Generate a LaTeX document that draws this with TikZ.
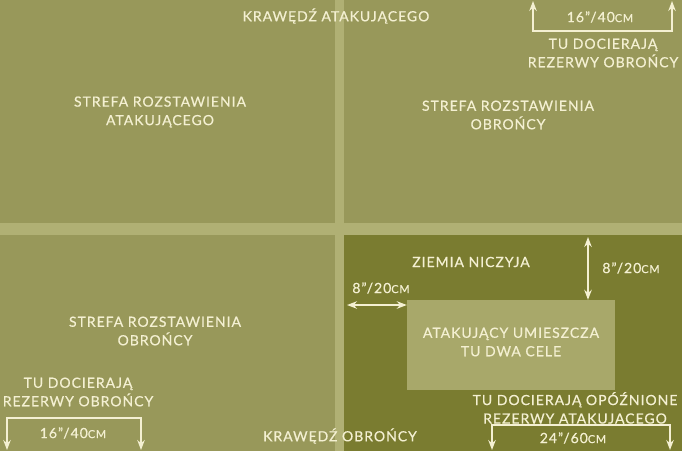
\documentclass[tikz,border=0pt]{standalone}
\usepackage{fontspec}
\setmainfont{Lato}[LetterSpace=7,FakeBold=0.5]
\usetikzlibrary{arrows.meta}
\definecolor{bgc}{RGB}{152,152,90}
\definecolor{bandc}{RGB}{176,176,116}
\definecolor{darkc}{RGB}{122,124,48}
\definecolor{boxc}{RGB}{168,168,106}
\definecolor{txtc}{RGB}{244,240,210}
\newcommand{\smc}[1]{{\fontsize{11}{12}\selectfont #1}}
\tikzset{
  lbl/.style={text=txtc, font=\fontsize{14}{18.5}\selectfont, align=center, inner sep=0pt},
  dimline/.style={draw=txtc, line width=1.6pt, line join=miter},
  tip2/.style={dimline, {Stealth[length=10pt,width=7.5pt]}-{Stealth[length=10pt,width=7.5pt]}},
  objbox/.style={fill=boxc, minimum width=208pt, minimum height=90pt, inner sep=0pt}
}
\begin{document}
\begin{tikzpicture}[x=1pt,y=-1pt]
\useasboundingbox (0,0) rectangle (682,451);
\fill[bgc] (0,0) rectangle (682,451);
\fill[darkc] (344,235) rectangle (682,451);
\fill[bandc] (335,0) rectangle (344,451);
\fill[bandc] (0,223) rectangle (682,235);

\node[objbox] (obj) at (511,345) {};
\node[lbl] (objt) at (511,342) {ATAKUJĄCY UMIESZCZA\\TU DWA CELE};

\node[lbl] (kra) at (336,16) {KRAWĘDŹ ATAKUJĄCEGO};
\node[lbl] (kro) at (340,436) {KRAWĘDŹ OBROŃCY};
\node[lbl] (sa) at (160,112) {STREFA ROZSTAWIENIA\\ATAKUJĄCEGO};
\node[lbl] (so) at (508,115) {STREFA ROZSTAWIENIA\\OBROŃCY};
\node[lbl] (sl) at (155,331) {STREFA ROZSTAWIENIA\\OBROŃCY};
\node[lbl] (zn) at (471,262) {ZIEMIA NICZYJA};

% top-right reserves
\node[lbl] (trd) at (603,53) {TU DOCIERAJĄ\\REZERWY OBROŃCY};
\node[lbl] (trm) at (600,17) {16”/40\smc{CM}};
\coordinate (tra) at (533,1);
\coordinate (trb) at (533,31);
\coordinate (trc) at (672,31);
\coordinate (trd2) at (672,1);
\draw[tip2] (tra) -- (trb) -- (trc) -- (trd2);

% bottom-left reserves
\node[lbl] (bld) at (78,392) {TU DOCIERAJĄ\\REZERWY OBROŃCY};
\node[lbl] (blm) at (73,433) {16”/40\smc{CM}};
\coordinate (bla) at (7,450);
\coordinate (blb) at (7,418);
\coordinate (blc) at (141,418);
\coordinate (bld2) at (141,450);
\draw[tip2] (bla) -- (blb) -- (blc) -- (bld2);

% bottom-right delayed reserves
\node[lbl] (brd) at (575,409) {TU DOCIERAJĄ OPÓŹNIONE\\REZERWY ATAKUJĄCEGO};
\node[lbl] (brm) at (573,438) {24”/60\smc{CM}};
\coordinate (bra) at (492,450);
\coordinate (brb) at (492,425);
\coordinate (brc) at (670,425);
\coordinate (brd2) at (670,450);
\draw[tip2] (bra) -- (brb) -- (brc) -- (brd2);

% no man's land distances
\node[lbl] (hm) at (381,288) {8”/20\smc{CM}};
\coordinate (ha) at (347,305);
\draw[tip2] (ha) -- (obj.west |- ha);
\node[lbl] (vm) at (631,268) {8”/20\smc{CM}};
\coordinate (va) at (588,237);
\draw[tip2] (va) -- (va |- obj.north);
\end{tikzpicture}
\end{document}
